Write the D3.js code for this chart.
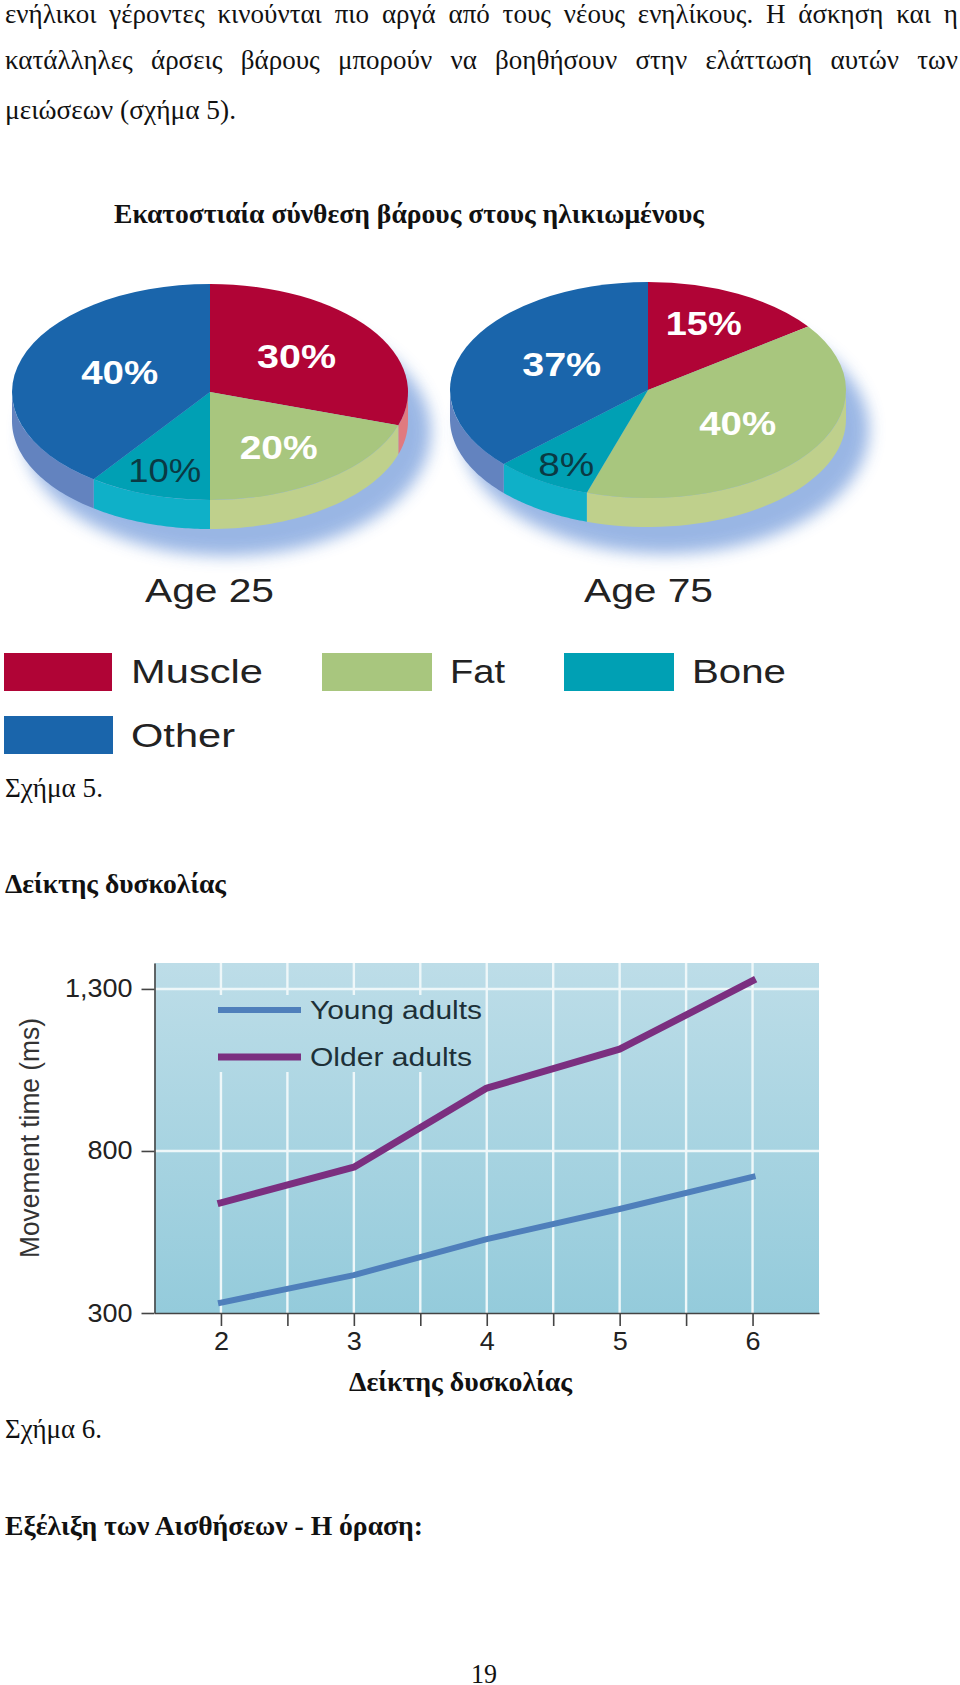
<!DOCTYPE html>
<html><head><meta charset="utf-8">
<script src="https://cdn.jsdelivr.net/npm/d3@7"></script>
<style>html,body{margin:0;padding:0;background:#fff;overflow:hidden}svg{display:block}
.serif{font-family:"Liberation Serif",serif;fill:#111}.sans{font-family:"Liberation Sans",sans-serif}</style>
</head><body><svg id="c" width="960" height="1685"></svg>
<script>
// ---- data ----
const components = ["Muscle", "Fat", "Bone", "Other"];
const age25 = [30, 20, 10, 40];
const age75 = [15, 40, 8, 37];
const ageLabels = ["Age 25", "Age 75"];
const difficulty = [2, 3, 4, 5, 6];
const youngAdults = [332, 417, 528, 621, 720];
const olderAdults = [640, 750, 994, 1114, 1325];
const yTicks = [300, 800, 1300];
const seriesNames = ["Young adults", "Older adults"];

// ---- styles ----
const topColor = d3.scaleOrdinal(components, ["#b00436", "#a8c67e", "#00a0b4", "#1a65ab"]);
const wallColor = d3.scaleOrdinal(components, ["#e07a80", "#bfd08c", "#0fb0c8", "#6383bf"]);
const labelColor = d3.scaleOrdinal(components, ["#fff", "#fff", "#0a3a44", "#fff"]);

const svg = d3.select("#c");
const defs = svg.append("defs");
defs.append("filter").attr("id", "blur").attr("x", "-20%").attr("y", "-30%").attr("width", "140%").attr("height", "160%")
  .append("feGaussianBlur").attr("stdDeviation", 8);
const grad = defs.append("linearGradient").attr("id", "bg").attr("gradientUnits", "userSpaceOnUse")
  .attr("x1", 0).attr("x2", 0).attr("y1", 963).attr("y2", 1313);
grad.append("stop").attr("offset", 0).attr("stop-color", "#bddde8");
grad.append("stop").attr("offset", 1).attr("stop-color", "#94cbdb");

function put(t, x, y, w, size, opts = {}) {
  const s = svg.append("text").text(t).attr("x", x).attr("y", y)
    .attr("class", opts.sans ? "sans" : "serif").attr("font-size", size)
    .attr("font-weight", opts.bold ? 700 : 400);
  if (opts.fill) s.style("fill", opts.fill);
  if (w) s.attr("textLength", w).attr("lengthAdjust", "spacingAndGlyphs");
  return s;
}
function just(t, x, y, w, size) {
  const s = put(t, x, y, null, size);
  const len = s.node().getComputedTextLength();
  s.style("word-spacing", ((w - len) / (t.split(" ").length - 1)) + "px");
}

// ---- document text ----
just("ενήλικοι γέροντες κινούνται πιο αργά από τους νέους ενηλίκους. Η άσκηση και η", 5, 23, 953, 27);
just("κατάλληλες άρσεις βάρους μπορούν να βοηθήσουν στην ελάττωση αυτών των", 5, 69, 953, 27);
put("μειώσεων (σχήμα 5).", 5, 119, 231, 27);
put("Εκατοστιαία σύνθεση βάρους στους ηλικιωμένους", 114, 223, 590, 28, {bold: true});
put("Σχήμα 5.", 5, 797, 98, 27);
put("Δείκτης δυσκολίας", 5, 893, 221, 27, {bold: true});
put("Δείκτης δυσκολίας", 349, 1391, 223, 27, {bold: true});
put("Σχήμα 6.", 5, 1438, 97, 27);
put("Εξέλιξη των Αισθήσεων - Η όραση:", 5, 1535, 418, 27, {bold: true});
put("19", 471, 1683, 26, 27);

// ---- pies ----
const RX = 198, RY = 108, DEPTH = 29;
const pieGen = d3.pie().sort(null).value(d => d).startAngle(0).endAngle(2 * Math.PI);
const arcGen = d3.arc().innerRadius(0).outerRadius(RX);
const pieLayouts = [
  {values: age25, cx: 210, cy: 392, labelX: [.54, .59, .74, .48], labelY: [.57, .63, .76, .6], widths: [79, 78, 73, 77]},
  {values: age75, cx: 648, cy: 390, labelX: [.62, .56, .77, .475], labelY: [.70, .52, .81, .6], widths: [76, 77, 56, 79]}
];
pieLayouts.forEach((p, pi) => {
  const arcs = pieGen(p.values);
  const g = svg.append("g").attr("transform", `translate(${p.cx},${p.cy})`);
  g.append("ellipse").attr("cx", 17).attr("cy", 40).attr("rx", RX + 6).attr("ry", RY + 16)
    .attr("fill", "#8fafe2").attr("opacity", .9).attr("filter", "url(#blur)");
  const rim = d3.line();
  arcs.forEach((a, i) => {
    const lo = Math.max(a.startAngle, Math.PI / 2), hi = Math.min(a.endAngle, 3 * Math.PI / 2);
    if (hi <= lo) return;
    const n = 40;
    const pts = d3.range(n + 1).map(k => {
      const t = lo + (hi - lo) * k / n;
      return [RX * Math.sin(t), -RY * Math.cos(t)];
    });
    const wall = pts.concat(pts.slice().reverse().map(q => [q[0], q[1] + DEPTH]));
    g.append("path").attr("d", rim(wall) + "Z").attr("fill", wallColor(components[i]));
  });
  const top = g.append("g").attr("transform", `scale(1,${RY / RX})`);
  top.selectAll("path").data(arcs).join("path").attr("d", arcGen)
    .attr("fill", (d, i) => topColor(components[i]));
  arcs.forEach((a, i) => {
    const mid = (a.startAngle + a.endAngle) / 2;
    const lx = p.labelX[i] * RX * Math.sin(mid), ly = -p.labelY[i] * RY * Math.cos(mid);
    const c = components[i];
    g.append("text").text(p.values[i] + "%").attr("class", "sans")
      .attr("x", lx - p.widths[i] / 2).attr("y", ly + 12)
      .attr("font-size", 34).attr("font-weight", c === "Bone" ? 400 : 700)
      .attr("fill", labelColor(c))
      .attr("textLength", p.widths[i]).attr("lengthAdjust", "spacingAndGlyphs");
  });
  put(ageLabels[pi], pi ? 584 : 145, 602, 129, 33, {sans: true, fill: "#222"});
});

// ---- pie legend ----
const legendItems = [
  {x: 4, y: 653, w: 108, tx: 131, tw: 132, by: 683},
  {x: 322, y: 653, w: 110, tx: 450, tw: 55, by: 683},
  {x: 564, y: 653, w: 110, tx: 692, tw: 94, by: 683},
  {x: 4, y: 716, w: 109, tx: 131, tw: 104, by: 747}
];
legendItems.forEach((l, i) => {
  svg.append("rect").attr("x", l.x).attr("y", l.y).attr("width", l.w).attr("height", 38)
    .attr("fill", topColor(components[i]));
  put(components[i], l.tx, l.by, l.tw, 33, {sans: true, fill: "#222"});
});

// ---- line chart ----
const x = d3.scaleLinear().domain([1.5, 6.5]).range([154.5, 819]);
const y = d3.scaleLinear().domain([300, 1380]).range([1313, 963]);
svg.append("rect").attr("x", x(1.5)).attr("y", y(1380)).attr("width", x(6.5) - x(1.5)).attr("height", y(300) - y(1380))
  .attr("fill", "url(#bg)");
const halfTicks = d3.range(2, 6.5, .5);
svg.append("g").selectAll("line").data(halfTicks).join("line")
  .attr("x1", d => x(d)).attr("x2", d => x(d)).attr("y1", y(1380)).attr("y2", y(300))
  .attr("stroke", "#eef7f9").attr("stroke-width", 2.4);
svg.append("g").selectAll("line").data([800, 1300]).join("line")
  .attr("x1", x(1.5)).attr("x2", x(6.5)).attr("y1", d => y(d)).attr("y2", d => y(d))
  .attr("stroke", "#eef7f9").attr("stroke-width", 2.4);
svg.append("rect").attr("x", 212).attr("y", 995).attr("width", 272).attr("height", 77).attr("fill", "url(#bg)");

const line = d3.line().x((d, i) => x(difficulty[i])).y(d => y(d));
const seriesColors = ["#4f7fbb", "#7b2f80"];
const seriesWidths = [6, 7];
[youngAdults, olderAdults].forEach((s, i) => {
  svg.append("path").attr("d", line(s)).attr("fill", "none").attr("stroke", seriesColors[i])
    .attr("stroke-width", seriesWidths[i]).attr("stroke-linecap", "square").attr("stroke-linejoin", "round");
});
[[1010, 310, 172], [1057, 310, 162]].forEach((r, i) => {
  svg.append("line").attr("x1", 218).attr("x2", 301).attr("y1", r[0]).attr("y2", r[0])
    .attr("stroke", seriesColors[i]).attr("stroke-width", seriesWidths[i]);
  put(seriesNames[i], r[1], r[0] + 9, r[2], 26, {sans: true, fill: "#1d3038"});
});

// axes
const axL = svg.append("g").attr("transform", `translate(${x(1.5)},0)`)
  .call(d3.axisLeft(y).tickValues(yTicks).tickFormat(d3.format(",")).tickSize(13).tickPadding(9).tickSizeOuter(0));
const axB = svg.append("g").attr("transform", `translate(0,${y(300)})`)
  .call(d3.axisBottom(x).tickValues(halfTicks).tickFormat(d => d % 1 ? "" : d).tickSize(13).tickPadding(6).tickSizeOuter(0));
[axL, axB].forEach(a => {
  a.selectAll("path,line").attr("stroke", "#444").attr("stroke-width", 1.6);
  a.selectAll("text").attr("class", "sans").attr("font-size", 25).attr("fill", "#222").each(function () {
    const n = this.getComputedTextLength();
    if (n) d3.select(this).attr("textLength", n * 1.08).attr("lengthAdjust", "spacingAndGlyphs");
  });
  a.attr("font-family", null).attr("font-size", null);
});
svg.append("text").text("Movement time (ms)").attr("class", "sans")
  .attr("transform", "translate(39,1138) rotate(-90)").attr("text-anchor", "middle")
  .attr("font-size", 27).attr("fill", "#333").attr("textLength", 240).attr("lengthAdjust", "spacingAndGlyphs");
</script></body></html>
